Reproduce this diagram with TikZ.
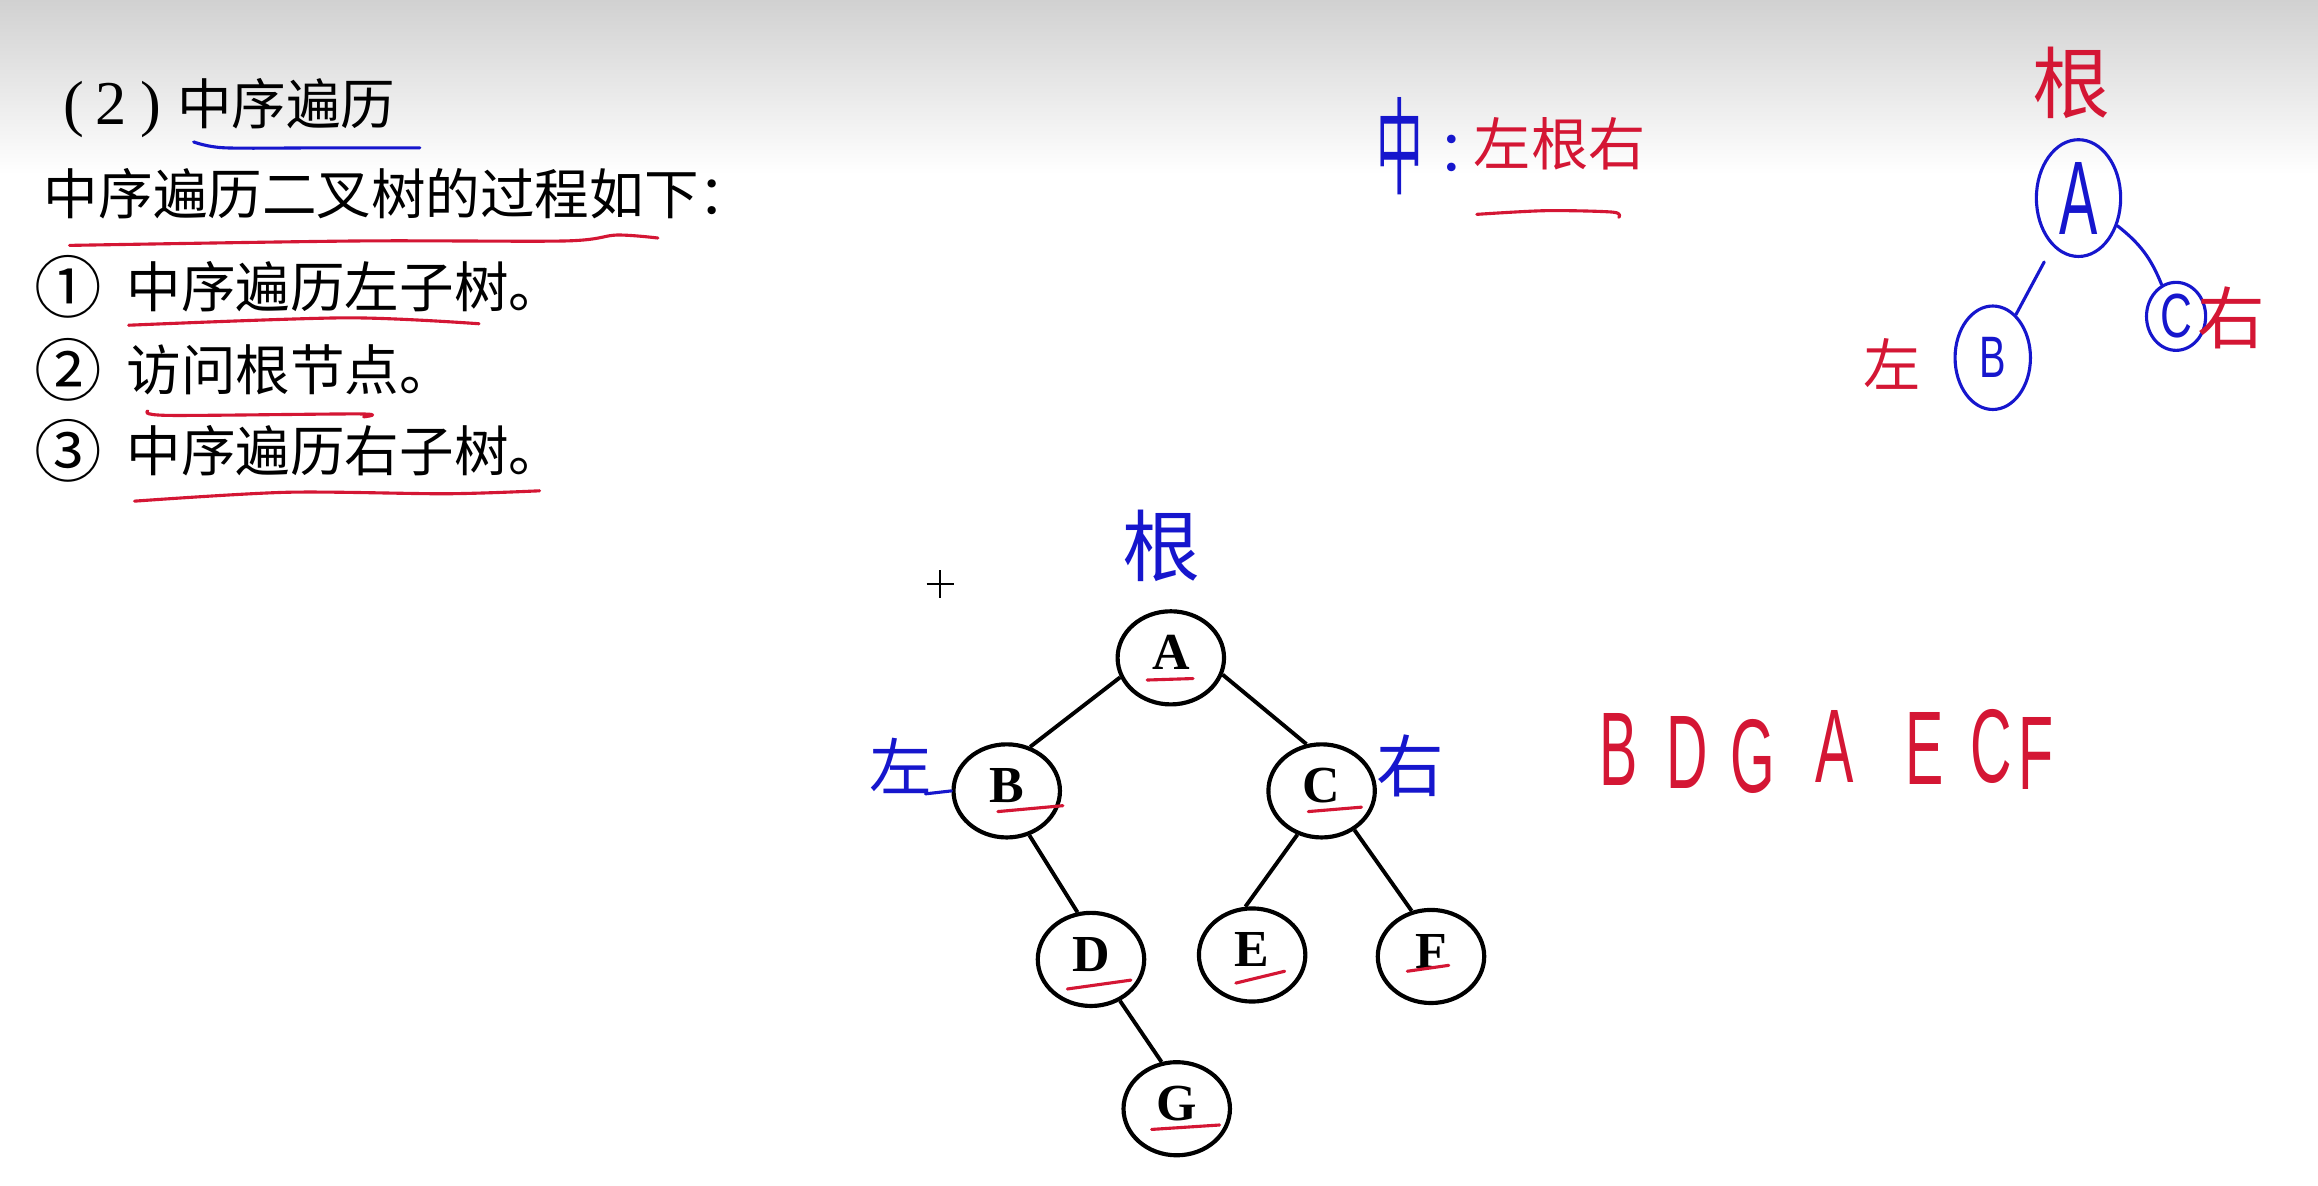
\documentclass[tikz,border=0pt]{standalone}
\usepackage{fontspec}
\setmainfont{Liberation Serif}
\newfontfamily\cjk{Noto Sans CJK SC}
\newfontfamily\handlatin[FakeStretch=0.85]{Liberation Sans}
\definecolor{penred}{RGB}{212,22,52}
\definecolor{penblue}{RGB}{22,22,205}
\usetikzlibrary{shapes.geometric}

\begin{document}
\begin{tikzpicture}[x=0.1mm, y=-0.1mm,
    tnode/.style={ellipse, draw, line width=0.8pt, minimum width=7.2mm,
                  minimum height=6.3mm, inner sep=0pt, text height=2.4mm,
                  text depth=0.8mm, font=\bfseries\fontsize{10}{10}\selectfont},
    tedge/.style={line width=0.75pt},
    txt/.style={anchor=west, inner sep=0pt, font=\cjk\fontsize{10.5}{12}\selectfont},
    hand/.style={inner sep=0pt, font=\cjk\fontsize{#1}{#1}\selectfont},
    hand/.default=12,
    redink/.style={penred, line width=0.6pt, line cap=round, line join=round},
    blueink/.style={penblue, line width=0.6pt, line cap=round, line join=round},
    rnode/.style={ellipse, draw=penblue, line width=0.6pt, inner sep=0pt, text=penblue}
]
\useasboundingbox (0,0) rectangle (1568,802);
\fill[white] (0,0) rectangle (1568,802);
\shade[top color=black!18, bottom color=white] (0,0) rectangle (1568,118);

% slide text
\node[txt] (title) at (42,73)
    {{\rmfamily\fontsize{12}{12}\selectfont(\hspace{0.8mm}2\hspace{0.9mm})}\hspace{1.1mm}中序遍历};
\node[txt] (intro) at (29,131) {中序遍历二叉树的过程如下：};
\foreach \n/\s/\t/\y in {1/①/中序遍历左子树。/194, 2/②/访问根节点。/250, 3/③/中序遍历右子树。/305} {
    \node[txt, anchor=center, font=\cjk\fontsize{13}{13}\selectfont] (num\n) at (46,\y) {\s};
    \node[txt] (step\n) at (85,\y) {\t};
}

% underlines
\draw[blueink] plot[smooth] coordinates {(131,96) (152,100) (220,100) (284,100)};
\draw[redink] plot[smooth] coordinates {(47,166) (242,163) (382,163) (417,159) (445,161)};
\draw[redink] plot[smooth] coordinates {(87,220) (234,215) (324,219)};
\draw[redink] plot[smooth] coordinates {(100,278) (114,281) (243,280) (246,282)};
\draw[redink] plot[smooth] coordinates {(91,339) (194,333) (302,334) (365,332)};

% binary tree
\node[tnode] (A) at (792,445) {A};
\node[tnode] (B) at (681,535) {B};
\node[tnode] (C) at (894,535) {C};
\node[tnode] (D) at (738,649) {D};
\node[tnode] (E) at (847,646) {E};
\node[tnode] (F) at (968,647) {F};
\node[tnode] (G) at (796,750) {G};

\draw[tedge] (A.201) -- (B.62);
\draw[tedge] (A.342) -- (C.108);
\draw[tedge] (B.297) -- (D.106);
\draw[tedge] (C.241) -- (E.98);
\draw[tedge] (C.310) -- (F.113);
\draw[tedge] (D.305) -- (G.108);

\foreach \v/\xa/\ya/\xb/\yb in {A/-16/15/15/14, B/-6/14/38/10, C/-9/14/27/11,
    D/-16/20/27/14, E/-11/19/22/11, F/-16/10/12/6, G/-17/14/29/11}
    \draw[redink] ([shift={(\xa,\ya)}]\v.center) -- ([shift={(\xb,\yb)}]\v.center);

% pen notes on the tree
\node[hand=15, penblue] (rootnote) at (786,369) {根};
\node[hand=12, penblue] (leftnote) at (609,518) {左};
\node[hand=13, penblue] (rightnote) at (954,518) {右};
\draw[blueink] (626,537) -- (B.west);

% cursor
\node[inner sep=0pt, minimum size=1.7mm] (cursor) at (636,395) {};
\draw[line width=0.35pt] (cursor.west) -- (cursor.east) (cursor.north) -- (cursor.south);

% rule written at the top
\node[hand=12, penblue] (mid) at (947,99) {\scalebox{0.75}[1.7]{中}};
\node[hand=11, penblue, anchor=west] (colon) at (972,104) {：};
\node[hand=11, penred] (order) at (1055,97) {左根右};
\draw[redink] plot[smooth] coordinates {(999,145) (1046,142.5) (1091,143.5) (1095,147)};

% small sketch tree
\node[rnode, minimum width=5.7mm, minimum height=7.9mm,
      font=\handlatin\fontsize{13}{13}\selectfont] (ra) at (1406,134) {\scalebox{1}[1.55]{A}};
\node[rnode, minimum width=5.1mm, minimum height=7mm,
      font=\handlatin\fontsize{9}{9}\selectfont] (rb) at (1348,242) {\scalebox{1}[1.25]{B}};
\node[rnode, minimum width=4mm, minimum height=4.6mm,
      font=\handlatin\fontsize{10}{10}\selectfont] (rc) at (1472,214) {\scalebox{1}[1.2]{C}};
\draw[blueink, shorten <=1.2mm] (ra) -- (rb);
\draw[blueink] (ra) to[bend left=15] (rc);
\node[hand=15, penred] (rroot) at (1401,56) {根};
\node[hand=11, penred] (rleft) at (1280,246) {左};
\node[hand=13, penred] (rright) at (1509,215) {右};

% inorder result
\foreach \ch/\xx/\yy in {B/1095/507, D/1141/509, G/1186/512, A/1241/505,
    E/1302/506, C/1347/505, F/1377/510}
    \node[inner sep=0pt, text=penred, font=\handlatin\fontsize{13}{13}\selectfont]
        (seq\ch) at (\xx,\yy) {\scalebox{1}[1.55]{\ch}};
\end{tikzpicture}
\end{document}
